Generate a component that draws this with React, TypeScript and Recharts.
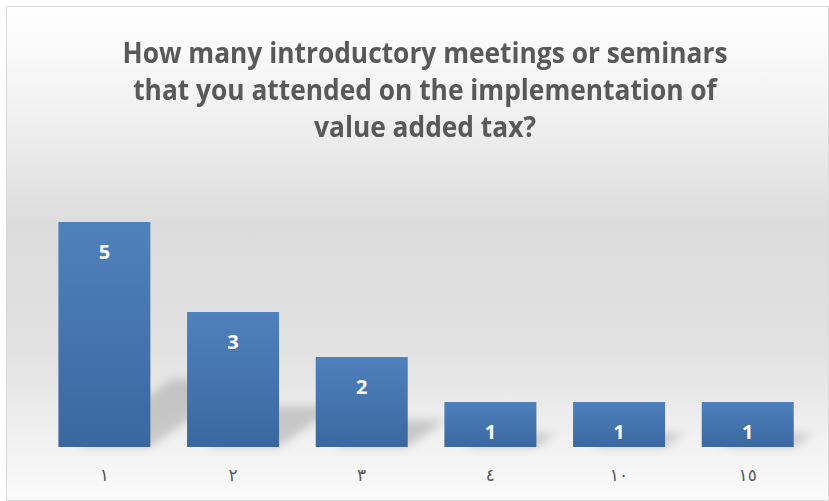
import { BarChart, Bar, XAxis, YAxis, LabelList } from 'recharts'

const categories = ['١', '٢', '٣', '٤', '١٠', '١٥']
const counts = [5, 3, 2, 1, 1, 1]

const chartData = categories.map((c, i) => ({ name: c, value: counts[i] }))

const titleLines = [
  'How many introductory meetings or seminars',
  'that you attended on the implementation of',
  'value added tax?',
]

function ShadowBar(props: any) {
  const { x, y, width, height } = props
  const t = height * 0.3
  const s = height * 0.42
  const base = y + height
  return (
    <g>
      <polygon
        points={`${x + width * 0.2},${base} ${x + width},${base} ${x + width + s},${base - t} ${x + width * 0.2 + s},${base - t}`}
        fill="#7f7f7f"
        opacity={0.35}
        filter="url(#shadowBlur)"
      />
      <rect x={x} y={y} width={width} height={height} fill="url(#barFill)" />
    </g>
  )
}

export default function App() {
  return (
    <div style={{ position: 'absolute', left: 0, top: 0, width: 829, height: 501 }}>
      <div
        style={{
          position: 'absolute',
          left: 6,
          top: 6,
          width: 821,
          height: 493,
          border: '1px solid #d9d9d9',
          background: 'linear-gradient(to bottom, #ffffff 0%, #f2f2f2 20%, #dcdcdc 45%, #e2e2e2 70%, #fbfbfb 100%)',
        }}
      />
      <div
        style={{
          position: 'absolute',
          left: 0,
          top: 34,
          width: 850,
          textAlign: 'center',
          fontFamily: '"Open Sans", sans-serif',
          fontWeight: 'bold',
          fontSize: 28,
          lineHeight: '37px',
          color: '#595959',
          transform: 'scaleX(0.94)',
          transformOrigin: '425px 0',
        }}
      >
        {titleLines.map((l) => (
          <div key={l}>{l}</div>
        ))}
      </div>
      <div style={{ position: 'absolute', left: 0, top: 0 }}>
        <BarChart
          width={829}
          height={501}
          data={chartData}
          margin={{ top: 222, right: 17, bottom: 14, left: 40 }}
          barCategoryGap="14.3%"
        >
          <defs>
            <linearGradient id="barFill" x1="0" y1="0" x2="0" y2="1">
              <stop offset="0%" stopColor="#4f81bd" />
              <stop offset="100%" stopColor="#3b679f" />
            </linearGradient>
            <filter id="shadowBlur" x="-50%" y="-50%" width="200%" height="200%">
              <feGaussianBlur stdDeviation="5" />
            </filter>
          </defs>
          <XAxis
            dataKey="name"
            axisLine={false}
            tickLine={false}
            height={40}
            tickMargin={16}
            tick={{ fill: '#595959', fontSize: 17, fontFamily: 'DejaVu Sans' }}
          />
          <YAxis hide domain={[0, 5]} />
          <Bar dataKey="value" shape={<ShadowBar />} isAnimationActive={false}>
            <LabelList
              dataKey="value"
              position="insideTop"
              offset={23}
              fill="#ffffff"
              fontSize={20}
              fontWeight="bold"
              fontFamily='"Open Sans", sans-serif'
            />
          </Bar>
        </BarChart>
      </div>
    </div>
  )
}
